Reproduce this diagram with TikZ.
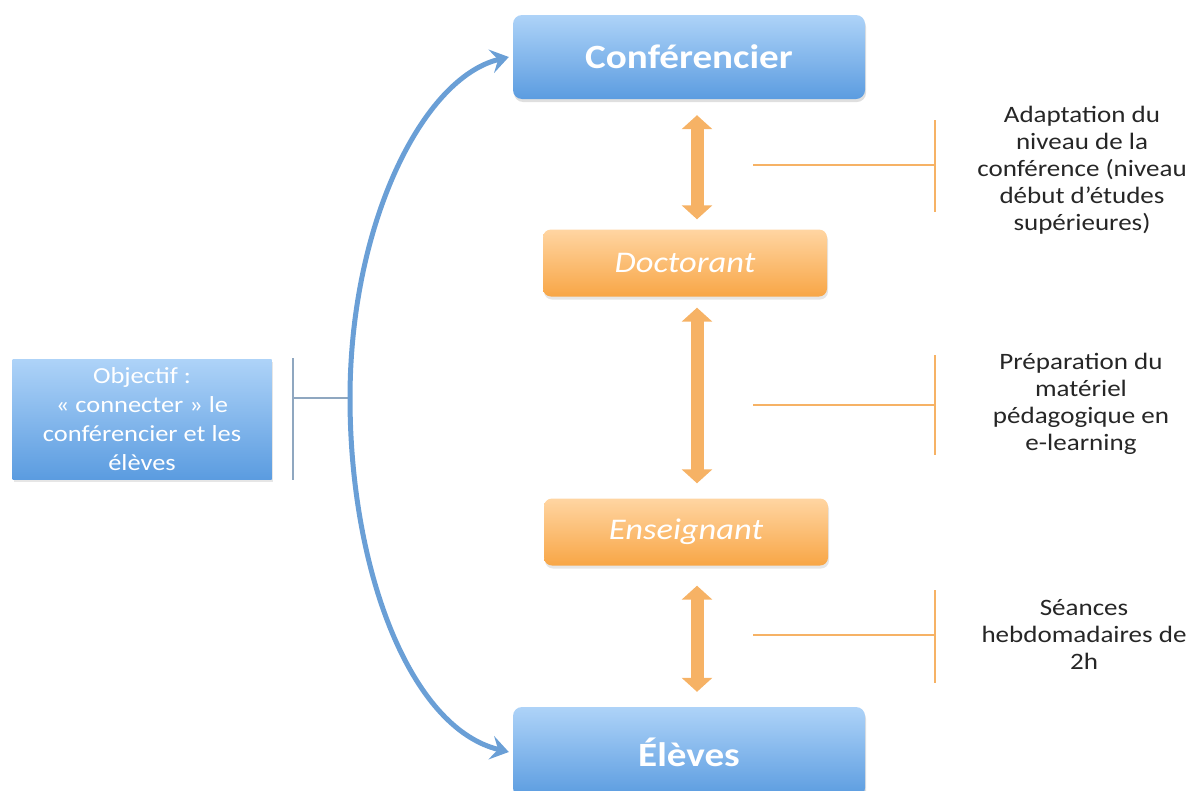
\documentclass[tikz,border=0pt]{standalone}
\usepackage{fontspec}
\setmainfont{Carlito}[FakeStretch=1.15]
\usepackage{tikz}
\usetikzlibrary{arrows.meta,shadows}

\definecolor{bluetop}{HTML}{AED3F8}
\definecolor{bluebot}{HTML}{5B9CE0}
\definecolor{orangetop}{HTML}{FFD5A2}
\definecolor{orangebot}{HTML}{F8A646}
\definecolor{orangeline}{HTML}{F6B265}
\definecolor{curveblue}{HTML}{6A9FD6}
\definecolor{bargray}{HTML}{8FA7C0}

\begin{document}
\begin{tikzpicture}[x=1pt,y=-1pt,
  rolebox/.style={rounded corners=9pt, top color=bluetop, bottom color=bluebot,
    text=white, minimum width=352pt, minimum height=84pt, inner sep=0pt,
    font=\fontsize{34}{38}\selectfont\bfseries,
    drop shadow={opacity=0.25, shadow xshift=1pt, shadow yshift=-3pt}},
  linkbox/.style={rounded corners=8pt, top color=orangetop, bottom color=orangebot,
    text=white, minimum width=284pt, minimum height=67pt, inner sep=0pt,
    font=\fontsize{30}{34}\selectfont\itshape,
    drop shadow={opacity=0.2, shadow xshift=1pt, shadow yshift=-3pt}},
  goalbox/.style={top color=bluetop, bottom color=bluebot, text=white,
    minimum width=259pt, minimum height=120pt, inner sep=0pt, align=center,
    font=\fontsize{23}{29}\selectfont,
    drop shadow={opacity=0.2, shadow xshift=1pt, shadow yshift=-3pt}},
  note/.style={align=center, text=black!85, font=\fontsize{23.5}{27}\selectfont},
  twoway/.style={draw=orangeline, line width=13pt,
    {Triangle[length=14pt,width=30pt]}-{Triangle[length=14pt,width=30pt]}},
  brace/.style={draw=orangeline, line width=2.5pt},
  goalbrace/.style={draw=bargray, line width=2pt},
  bigcurve/.style={draw=curveblue, line width=5pt,
    {Stealth[length=18pt,width=24pt,inset=7pt]}-{Stealth[length=18pt,width=24pt,inset=7pt]}}
]
  \useasboundingbox (0,0) rectangle (1190,790);

  % chain of roles
  \node[rolebox] (conf) at (689,57) {Conférencier};
  \node[linkbox] (doct) at (685,263) {Doctorant};
  \node[linkbox] (ens) at (686,532) {Enseignant};
  \node[rolebox, minimum height=90pt] (eleves) at (689,752) {Élèves};

  \draw[twoway] ([xshift=8pt,yshift=-16pt]conf.south) -- ([xshift=12pt,yshift=10pt]doct.north);
  \draw[twoway] ([xshift=12pt,yshift=-11pt]doct.south) -- ([xshift=11pt,yshift=15pt]ens.north);
  \draw[twoway] ([xshift=11pt,yshift=-20pt]ens.south) -- ([xshift=8pt,yshift=15pt]eleves.north);

  % notes on the right
  \node[note] (n1) at (1082,170) {Adaptation du\\niveau de la\\conférence (niveau\\début d’études\\supérieures)};
  \node[note] (n2) at (1081,404) {Préparation du\\matériel\\pédagogique en\\e-learning};
  \node[note] (n3) at (1084,634) {Séances\\hebdomadaires de\\2h};

  \coordinate (b1) at (935,165);
  \coordinate (b2) at (935,405);
  \coordinate (b3) at (935,635);
  \draw[brace] (b1) -- ++(-182,0);
  \draw[brace] ([yshift=45pt]b1) -- ([yshift=-47pt]b1);
  \draw[brace] (b2) -- ++(-182,0);
  \draw[brace] ([yshift=50pt]b2) -- ([yshift=-50pt]b2);
  \draw[brace] (b3) -- ++(-182,0);
  \draw[brace] ([yshift=45pt]b3) -- ([yshift=-48pt]b3);

  % goal on the left
  \node[goalbox] (goal) at (142,419) {Objectif :\\« connecter » le\\conférencier et les\\élèves};
  \coordinate (mid) at (350,398);
  \coordinate (g) at (293,398);
  \draw[goalbrace] ([yshift=40pt]g) -- ([yshift=-82pt]g);
  \draw[goalbrace] (g) -- (mid);

  \draw[bigcurve] ([xshift=-4pt]conf.west) .. controls (422,78) and (350,225) .. (mid)
    .. controls (350,570) and (410,728) .. ([xshift=-4pt]eleves.west);
\end{tikzpicture}
\end{document}
